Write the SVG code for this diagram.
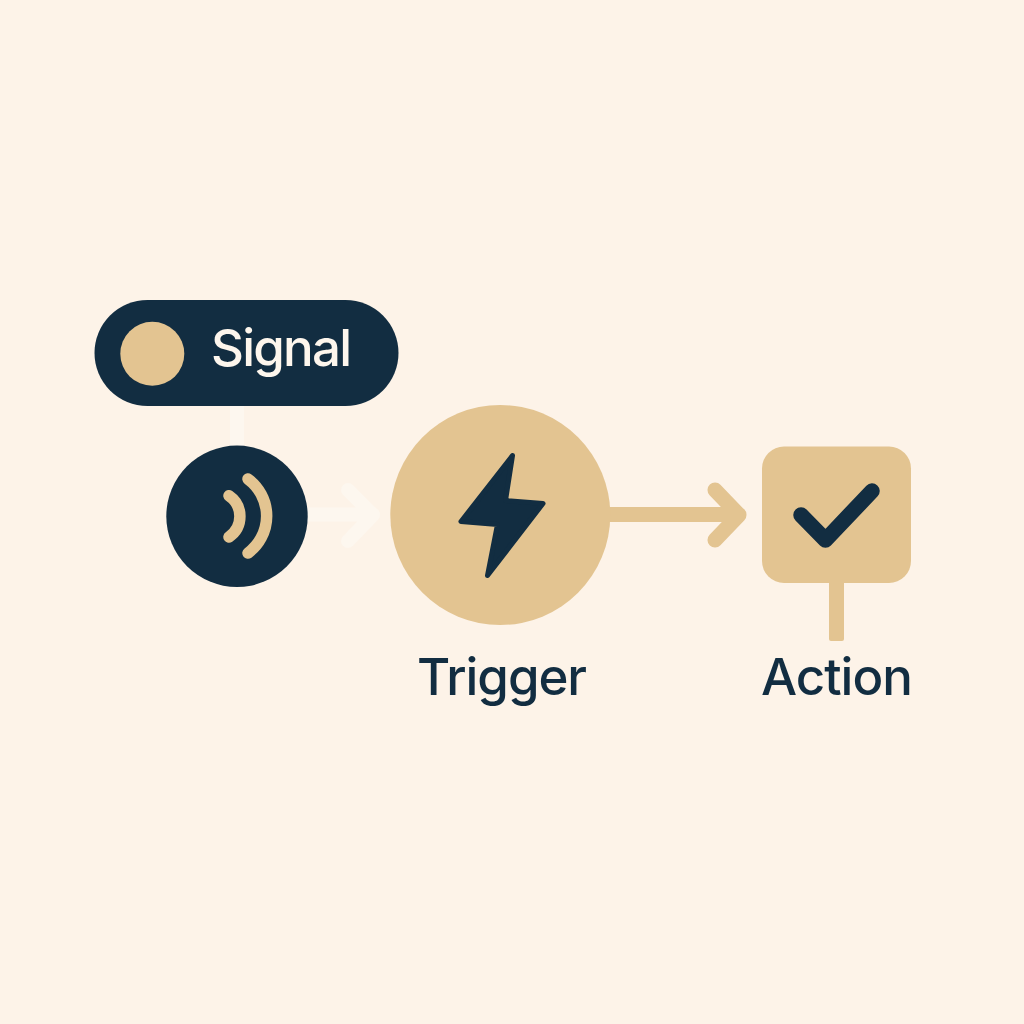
<svg xmlns="http://www.w3.org/2000/svg" width="1024" height="1024" viewBox="0 0 1024 1024">
<style>
.lbl{font-family:"Inter","Liberation Sans",sans-serif;font-weight:500;font-size:51px;fill:#122d41}
.light{stroke:#fdf7ef;fill:none;stroke-width:14;stroke-linecap:round;stroke-linejoin:round}
.tan{stroke:#e3c491;fill:none;stroke-width:15;stroke-linecap:round;stroke-linejoin:round}
.tanfill{fill:#e3c491}
.navy{fill:#122d41}
.wave{fill:none;stroke:#e3c491;stroke-width:11.5;stroke-linecap:round}
</style>
<rect width="1024" height="1024" fill="#fdf3e8"/>
<g id="connectors">
<rect x="230" y="404" width="14" height="44" fill="#fdf7ef"/>
<path d="M304 514.500H373M348 490L373 515L348 541" class="light"/>
<path d="M604 514.500H739M715 490L739 515L715 540" class="tan"/>
<rect x="829" y="580" width="15" height="61" rx="2" class="tanfill"/>
</g>
<g id="signal">
<rect x="94.500" y="300" width="304" height="106" rx="53" class="navy"/>
<circle cx="152.300" cy="353.800" r="32" class="tanfill"/>
<text x="211" y="366" class="lbl" style="fill:#fdf6ed" textLength="141">Signal</text>
</g>
<g id="sensor">
<circle cx="237" cy="516.300" r="70.700" class="navy"/>
<path d="M229 495.700A25 25 0 0 1 229 537M248 479A46 46 0 0 1 248 553" class="wave"/>
</g>
<g id="trigger">
<circle cx="500.300" cy="515" r="110" class="tanfill"/>
<path d="M512.500 455.500L461 521.500L497.500 524.500L487.500 575.500L543 503.500L505.500 500.500Z" class="navy" stroke="#122d41" stroke-width="5" stroke-linejoin="round"/>
<text x="417" y="695" class="lbl" textLength="170">Trigger</text>
</g>
<g id="action">
<rect x="762" y="446.500" width="149" height="136.500" rx="22" class="tanfill"/>
<path d="M801 515L825.500 540L872 491" fill="none" stroke="#122d41" stroke-width="15.500" stroke-linecap="round" stroke-linejoin="round"/>
<text x="761" y="695" class="lbl" textLength="152">Action</text>
</g>
</svg>
